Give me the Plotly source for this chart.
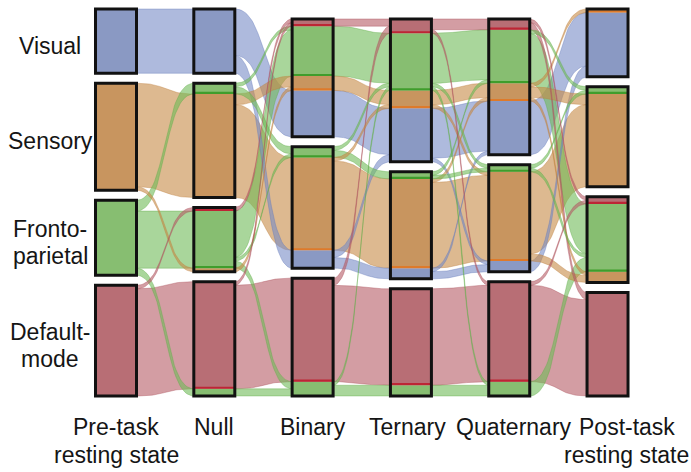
import numpy as np
import plotly.graph_objects as go

# ---- data -------------------------------------------------------------
networks = ["V", "S", "F", "D"]
network_labels = [["Visual"], ["Sensory"], ["Fronto-", "parietal"], ["Default-", "mode"]]
column_labels = [["Pre-task", "resting state"], ["Null"], ["Binary"],
                 ["Ternary"], ["Quaternary"], ["Post-task", "resting state"]]

# each route gives the module index of a group of regions in every column
path_net = (["V"] * 5 + ["S"] * 7 + ["F"] * 11 + ["D"] * 6)
path_route = [
    "000000", "000010", "001000", "001110", "001100",
    "111111", "111112", "111100", "111001", "110001", "120011", "110002",
    "220002", "210002", "220001", "220012", "220022", "211111", "211002",
    "221102", "232222", "222222", "222002",
    "332223", "330002", "320003", "332003", "332023", "332222",
]
path_count = [
    12, 1, 2, 2, 1,
    22, 2, 1, 1, 2, 1, 1,
    10, 1, 1, 1, 1, 1, 1, 1, 2, 1, 1,
    26, 1, 1, 1, 1, 1,
]

# stacking order of the networks inside each module, top to bottom
seg_order = [
    [["V"], ["S"], ["F"], ["D"]],
    [["V"], ["F", "S"], ["D", "F", "S"], ["D", "F"]],
    [["D", "F", "S", "V"], ["F", "S", "V"], ["D", "F"]],
    [["D", "F", "S", "V"], ["F", "S", "V"], ["D", "F"]],
    [["D", "F", "S", "V"], ["F", "S", "V"], ["D", "F"]],
    [["S", "V"], ["F", "S"], ["D", "F", "S"], ["D"]],
]

# ---- styling ----------------------------------------------------------
fill_col = {"V": "#8a99c3", "S": "#c8955f", "F": "#87be71", "D": "#b86e75"}
dark_col = {"V": "#6a7db5", "S": "#de7a2a", "F": "#3f9d2c", "D": "#bd2535"}
ribbon_col = {"V": "rgba(120,140,198,0.60)", "S": "rgba(198,138,70,0.60)",
              "F": "rgba(112,186,88,0.60)", "D": "rgba(182,92,102,0.60)"}
edge_col = {"V": "rgba(100,120,185,0.55)", "S": "rgba(190,125,60,0.55)",
            "F": "rgba(95,170,70,0.55)", "D": "rgba(170,80,90,0.55)"}

GAP = 2.8
HW = 0.2085
N_COL = len(seg_order)
total = sum(path_count)
BOTTOM = total + 3 * GAP

# ---- module and segment geometry ----------------------------------------
seg_count = {}
for net, route, cnt in zip(path_net, path_route, path_count):
    for c, m in enumerate(route):
        key = (c, int(m), net)
        seg_count[key] = seg_count.get(key, 0) + cnt

clusters = {}   # (col, module) -> (top, bottom)
segments = {}   # (col, module, net) -> (top, bottom)
for c, mods in enumerate(seg_order):
    sizes = [sum(seg_count[(c, m, n)] for n in nets) for m, nets in enumerate(mods)]
    y = BOTTOM - (sum(sizes) + (len(mods) - 1) * GAP)
    for m, nets in enumerate(mods):
        clusters[(c, m)] = (y, y + sizes[m])
        yy = y
        for n in nets:
            segments[(c, m, n)] = (yy, yy + seg_count[(c, m, n)])
            yy += seg_count[(c, m, n)]
        y += sizes[m] + GAP

# ---- ribbons between neighbouring columns --------------------------------
fig = go.Figure()
ribbons = []
for c in range(N_COL - 1):
    flows = {}
    for net, route, cnt in zip(path_net, path_route, path_count):
        key = (net, int(route[c]), int(route[c + 1]))
        flows[key] = flows.get(key, 0) + cnt
    out_off = {}
    in_off = {}
    # outgoing: ordered by target position; incoming: ordered by source position
    src_pos = {}
    for key in sorted(flows, key=lambda k: segments[(c + 1, k[2], k[0])][0]):
        net, a, b = key
        s = (c, a, net)
        src_pos[key] = segments[s][0] + out_off.get(s, 0)
        out_off[s] = out_off.get(s, 0) + flows[key]
    dst_pos = {}
    for key in sorted(flows, key=lambda k: segments[(c, k[1], k[0])][0]):
        net, a, b = key
        d = (c + 1, b, net)
        dst_pos[key] = segments[d][0] + in_off.get(d, 0)
        in_off[d] = in_off.get(d, 0) + flows[key]
    for key, v in flows.items():
        ribbons.append((v, c, key[0], src_pos[key], dst_pos[key]))

t = np.linspace(0, 1, 40)
for v, c, net, y0, y1 in sorted(ribbons, key=lambda r: -r[0]):
    x0, x1 = c + HW, c + 1 - HW
    k = 0.55 * (x1 - x0)
    bx = (1 - t) ** 3 * x0 + 3 * (1 - t) ** 2 * t * (x0 + k) + 3 * (1 - t) * t ** 2 * (x1 - k) + t ** 3 * x1
    by = (1 - t) ** 3 + 3 * (1 - t) ** 2 * t
    top = y0 * by + y1 * (1 - by)
    bot = (y0 + v) * by + (y1 + v) * (1 - by)
    xs = np.concatenate([bx, bx[::-1], bx[:1]])
    ys = np.concatenate([top, bot[::-1], top[:1]])
    fig.add_trace(go.Scatter(x=xs, y=ys, mode="lines", fill="toself",
                             fillcolor=ribbon_col[net],
                             line=dict(color=edge_col[net], width=0.7),
                             hoverinfo="skip", showlegend=False))

# ---- module boxes -----------------------------------------------------
shapes = []
for (c, m, net), (y0, y1) in segments.items():
    shapes.append(dict(type="rect", xref="x", yref="y", x0=c - HW, x1=c + HW,
                       y0=y0, y1=y1, fillcolor=fill_col[net], line_width=0,
                       layer="above"))
for c, mods in enumerate(seg_order):
    for m, nets in enumerate(mods):
        for n in nets[:-1]:
            y1 = segments[(c, m, n)][1]
            shapes.append(dict(type="rect", xref="x", yref="y", x0=c - HW, x1=c + HW,
                               y0=y1 - 0.6, y1=y1, fillcolor=dark_col[n],
                               line_width=0, layer="above"))
for (c, m), (y0, y1) in clusters.items():
    shapes.append(dict(type="rect", xref="x", yref="y", x0=c - HW, x1=c + HW,
                       y0=y0, y1=y1, line=dict(color="#111111", width=3),
                       fillcolor="rgba(0,0,0,0)", layer="above"))

# ---- labels -------------------------------------------------------------
font = dict(family="Liberation Sans, Arial, sans-serif", size=23, color="#151515")
ann = []
for i, lines in enumerate(network_labels):
    y0, y1 = clusters[(0, i)]
    yc = (y0 + y1) / 2 + 1.3
    for j, txt in enumerate(lines):
        off = (j - (len(lines) - 1) / 2) * 7.7
        ann.append(dict(x=-0.671, y=yc + off, xref="x", yref="y", text=txt,
                        showarrow=False, font=font, xanchor="center", yanchor="middle"))
label_shift = [0, 0, 0, -3, 5, 19]
for c, lines in enumerate(column_labels):
    for j, txt in enumerate(lines):
        ann.append(dict(x=c, y=117.2 + j * 7.8, xref="x", yref="y", text=txt,
                        xshift=label_shift[c], showarrow=False, font=font,
                        xanchor="center", yanchor="middle"))

fig.update_layout(
    width=691, height=472, margin=dict(l=0, r=0, t=0, b=0),
    paper_bgcolor="white", plot_bgcolor="white",
    xaxis=dict(range=[-1.180, 5.849], visible=False, fixedrange=True),
    yaxis=dict(range=[129.7, -2.52], visible=False, fixedrange=True),
    shapes=shapes, annotations=ann, showlegend=False,
)
fig.write_html("out.html")
